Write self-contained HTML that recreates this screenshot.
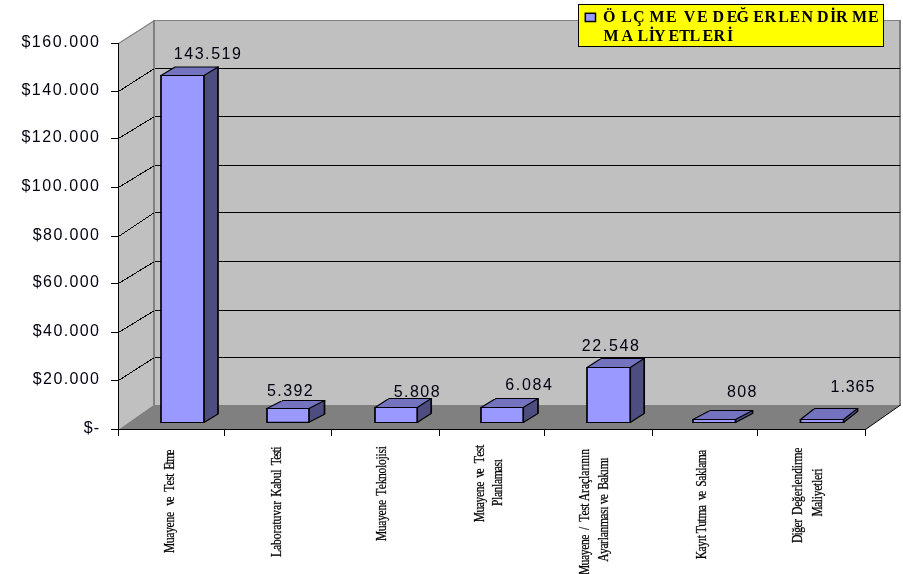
<!DOCTYPE html>
<html lang="tr"><head><meta charset="utf-8"><title>Ölçme ve Değerlendirme Maliyetleri</title>
<style>
html,body{margin:0;padding:0;background:#fff;}
body{width:903px;height:574px;overflow:hidden;position:relative;}
svg{position:absolute;left:0;top:0;display:block;}
.ar{font-family:"Liberation Sans",sans-serif;font-size:16px;fill:#000010;}
.tr{font-family:"Liberation Serif",serif;font-size:14.5px;fill:#000;stroke:#000;stroke-width:0.25px;}
.tb{font-family:"Liberation Serif",serif;font-size:16px;font-weight:bold;fill:#000;}
</style></head><body>
<svg width="903" height="574" viewBox="0 0 903 574">
<rect x="0" y="0" width="903" height="574" fill="#ffffff"/>
<polygon points="154.5,20.5 900.5,20.5 900.5,405.0 154.5,405.0" fill="#c0c0c0"/>
<polygon points="118.5,43.5 153.5,20.5 153.5,405.0 118.5,429.5" fill="#c0c0c0"/>
<polygon points="118.5,429.5 153.5,405.0 900.5,405.0 865.5,429.5" fill="#808080"/>
<g stroke="#808080" stroke-width="1" fill="none">
<path d="M118.5,43.5 L154.5,20.5 L900.5,20.5" stroke-width="1.2"/>
<rect x="899" y="20" width="2" height="386" fill="#808080" stroke="none"/>
<rect x="153" y="20" width="2" height="385" fill="#808080" stroke="none"/>
</g>
<g stroke="#000" stroke-width="1" fill="none" shape-rendering="crispEdges">
<path d="M154.5,68.5 L899.5,68.5"/>
<path d="M118.5,91.5 L154.5,68.5"/>
<path d="M154.5,116.5 L899.5,116.5"/>
<path d="M118.5,138.5 L154.5,116.5"/>
<path d="M154.5,165.5 L899.5,165.5"/>
<path d="M118.5,187.5 L154.5,165.5"/>
<path d="M154.5,212.5 L899.5,212.5"/>
<path d="M118.5,236.5 L154.5,212.5"/>
<path d="M154.5,261.5 L899.5,261.5"/>
<path d="M118.5,283.5 L154.5,261.5"/>
<path d="M154.5,310.5 L899.5,310.5"/>
<path d="M118.5,332.5 L154.5,310.5"/>
<path d="M154.5,357.5 L899.5,357.5"/>
<path d="M118.5,380.5 L154.5,357.5"/>
</g>
<path d="M865.5,429.5 L900.5,405.0" stroke="#000" stroke-width="1" fill="none"/>
<g stroke="#000" stroke-width="1" fill="none" shape-rendering="crispEdges">
<path d="M118.5,43.5 L118.5,435.5"/>
<path d="M111.0,429.5 L865.5,429.5"/>
<path d="M111.0,43.5 L118.5,43.5"/>
<path d="M111.0,91.5 L118.5,91.5"/>
<path d="M111.0,138.5 L118.5,138.5"/>
<path d="M111.0,187.5 L118.5,187.5"/>
<path d="M111.0,236.5 L118.5,236.5"/>
<path d="M111.0,283.5 L118.5,283.5"/>
<path d="M111.0,332.5 L118.5,332.5"/>
<path d="M111.0,380.5 L118.5,380.5"/>
<path d="M224.5,429.5 L224.5,435.5"/>
<path d="M331.5,429.5 L331.5,435.5"/>
<path d="M439.5,429.5 L439.5,435.5"/>
<path d="M544.5,429.5 L544.5,435.5"/>
<path d="M652.5,429.5 L652.5,435.5"/>
<path d="M757.5,429.5 L757.5,435.5"/>
<path d="M865.5,429.5 L865.5,435.5"/>
</g>
<g stroke="none">
<polygon points="161,75.5 175,67.0 218,67.0 204,75.5" fill="#7373bf"/>
<polygon points="204,75.5 218,67.0 218,414.0 204,422.5" fill="#4d4d80"/>
<polygon points="161,75.5 204,75.5 204,422.5 161,422.5" fill="#9999ff"/>
</g>
<path d="M160.4,75.5 L204.6,75.5 M160.4,422.5 L204.6,422.5 M174.4,67.0 L218.6,67.0 M161,75.5 L175,67.0 M204,75.5 L218,67.0 M204,422.5 L218,414.0" stroke="#000" stroke-width="1.2" fill="none" stroke-linecap="butt"/>
<path d="M161,75.0 L161,423.0 M204,75.0 L204,423.0 M218,66.5 L218,414.3" stroke="#000" stroke-width="1.7" fill="none"/>
<g stroke="none">
<polygon points="267,408.5 282.5,400.5 324.5,400.5 309,408.5" fill="#7373bf"/>
<polygon points="309,408.5 324.5,400.5 324.5,414.3 309,422.3" fill="#4d4d80"/>
<polygon points="267,408.5 309,408.5 309,422.3 267,422.3" fill="#9999ff"/>
</g>
<path d="M266.4,408.5 L309.6,408.5 M266.4,422.3 L309.6,422.3 M281.9,400.5 L325.1,400.5 M267,408.5 L282.5,400.5 M309,408.5 L324.5,400.5 M309,422.3 L324.5,414.3" stroke="#000" stroke-width="1.2" fill="none" stroke-linecap="butt"/>
<path d="M267,408.0 L267,422.8 M309,408.0 L309,422.8 M324.5,400.0 L324.5,414.6" stroke="#000" stroke-width="1.7" fill="none"/>
<g stroke="none">
<polygon points="375,407.5 389,398.5 431.2,398.5 417.2,407.5" fill="#7373bf"/>
<polygon points="417.2,407.5 431.2,398.5 431.2,413.5 417.2,422.5" fill="#4d4d80"/>
<polygon points="375,407.5 417.2,407.5 417.2,422.5 375,422.5" fill="#9999ff"/>
</g>
<path d="M374.4,407.5 L417.8,407.5 M374.4,422.5 L417.8,422.5 M388.4,398.5 L431.8,398.5 M375,407.5 L389,398.5 M417.2,407.5 L431.2,398.5 M417.2,422.5 L431.2,413.5" stroke="#000" stroke-width="1.2" fill="none" stroke-linecap="butt"/>
<path d="M375,407.0 L375,423.0 M417.2,407.0 L417.2,423.0 M431.2,398.0 L431.2,413.8" stroke="#000" stroke-width="1.7" fill="none"/>
<g stroke="none">
<polygon points="481,407.5 495.8,398.5 538.0,398.5 523.2,407.5" fill="#7373bf"/>
<polygon points="523.2,407.5 538.0,398.5 538.0,413.5 523.2,422.5" fill="#4d4d80"/>
<polygon points="481,407.5 523.2,407.5 523.2,422.5 481,422.5" fill="#9999ff"/>
</g>
<path d="M480.4,407.5 L523.8000000000001,407.5 M480.4,422.5 L523.8000000000001,422.5 M495.2,398.5 L538.6,398.5 M481,407.5 L495.8,398.5 M523.2,407.5 L538.0,398.5 M523.2,422.5 L538.0,413.5" stroke="#000" stroke-width="1.2" fill="none" stroke-linecap="butt"/>
<path d="M481,407.0 L481,423.0 M523.2,407.0 L523.2,423.0 M538.0,398.0 L538.0,413.8" stroke="#000" stroke-width="1.7" fill="none"/>
<g stroke="none">
<polygon points="587,367.5 601,358.5 644.2,358.5 630.2,367.5" fill="#7373bf"/>
<polygon points="630.2,367.5 644.2,358.5 644.2,413.5 630.2,422.5" fill="#4d4d80"/>
<polygon points="587,367.5 630.2,367.5 630.2,422.5 587,422.5" fill="#9999ff"/>
</g>
<path d="M586.4,367.5 L630.8000000000001,367.5 M586.4,422.5 L630.8000000000001,422.5 M600.4,358.5 L644.8000000000001,358.5 M587,367.5 L601,358.5 M630.2,367.5 L644.2,358.5 M630.2,422.5 L644.2,413.5" stroke="#000" stroke-width="1.2" fill="none" stroke-linecap="butt"/>
<path d="M587,367.0 L587,423.0 M630.2,367.0 L630.2,423.0 M644.2,358.0 L644.2,413.8" stroke="#000" stroke-width="1.7" fill="none"/>
<g stroke="none">
<polygon points="693,419.5 710,410.5 752.5,410.5 735.5,419.5" fill="#7373bf"/>
<polygon points="735.5,419.5 752.5,410.5 752.5,413.5 735.5,422.5" fill="#4d4d80"/>
<polygon points="693,419.5 735.5,419.5 735.5,422.5 693,422.5" fill="#9999ff"/>
</g>
<path d="M692.4,419.5 L736.1,419.5 M692.4,422.5 L736.1,422.5 M709.4,410.5 L753.1,410.5 M693,419.5 L710,410.5 M735.5,419.5 L752.5,410.5 M735.5,422.5 L752.5,413.5" stroke="#000" stroke-width="1.2" fill="none" stroke-linecap="butt"/>
<path d="M693,419.0 L693,423.0 M735.5,419.0 L735.5,423.0 M752.5,410.0 L752.5,413.8" stroke="#000" stroke-width="1.7" fill="none"/>
<g stroke="none">
<polygon points="800.5,419.5 814.5,408.5 857.5,408.5 843.5,419.5" fill="#7373bf"/>
<polygon points="843.5,419.5 857.5,408.5 857.5,411.5 843.5,422.5" fill="#4d4d80"/>
<polygon points="800.5,419.5 843.5,419.5 843.5,422.5 800.5,422.5" fill="#9999ff"/>
</g>
<path d="M799.9,419.5 L844.1,419.5 M799.9,422.5 L844.1,422.5 M813.9,408.5 L858.1,408.5 M800.5,419.5 L814.5,408.5 M843.5,419.5 L857.5,408.5 M843.5,422.5 L857.5,411.5" stroke="#000" stroke-width="1.2" fill="none" stroke-linecap="butt"/>
<path d="M800.5,419.0 L800.5,423.0 M843.5,419.0 L843.5,423.0 M857.5,408.0 L857.5,411.8" stroke="#000" stroke-width="1.7" fill="none"/>
<text class="ar" x="21.4" y="47.2" textLength="77.6" lengthAdjust="spacing">$160.000</text>
<text class="ar" x="21.4" y="95.2" textLength="77.6" lengthAdjust="spacing">$140.000</text>
<text class="ar" x="21.4" y="142.2" textLength="77.6" lengthAdjust="spacing">$120.000</text>
<text class="ar" x="21.4" y="191.2" textLength="77.6" lengthAdjust="spacing">$100.000</text>
<text class="ar" x="32.8" y="240.2" textLength="66.2" lengthAdjust="spacing">$80.000</text>
<text class="ar" x="32.8" y="287.2" textLength="66.2" lengthAdjust="spacing">$60.000</text>
<text class="ar" x="32.8" y="336.2" textLength="66.2" lengthAdjust="spacing">$40.000</text>
<text class="ar" x="32.8" y="384.2" textLength="66.2" lengthAdjust="spacing">$20.000</text>
<text class="ar" x="83.8" y="433.2" textLength="15.2" lengthAdjust="spacing">$-</text>
<text class="ar" x="173.7" y="58.8" textLength="67.3" lengthAdjust="spacing">143.519</text>
<text class="ar" x="267.0" y="395.9" textLength="45.7" lengthAdjust="spacing">5.392</text>
<text class="ar" x="393.7" y="397.0" textLength="45.9" lengthAdjust="spacing">5.808</text>
<text class="ar" x="505.2" y="389.8" textLength="46.8" lengthAdjust="spacing">6.084</text>
<text class="ar" x="581.8" y="351.0" textLength="57.0" lengthAdjust="spacing">22.548</text>
<text class="ar" x="727.0" y="397.2" textLength="29.4" lengthAdjust="spacing">808</text>
<text class="ar" x="830.6" y="392.1" textLength="43.7" lengthAdjust="spacing">1.365</text>
<text class="tr" transform="translate(174.3,552.9) rotate(-90) scale(0.8,1)" x="0.0 12.2 19.0 25.1 31.9 38.0 44.8 53.2 58.9 64.1 71.6 76.4 84.4 90.2 95.3 99.7 103.8 110.7 113.8 122.7" y="0">Muayene ve Test Etme</text>
<text class="tr" transform="translate(280.6,557.0) rotate(-90) scale(0.8,1)" x="0.0 8.7 15.1 22.3 29.4 34.2 40.5 44.5 51.7 58.8 65.2 70.9 75.4 85.3 91.4 98.3 105.2 110.2 114.8 121.6 126.6 131.0 134.1" y="0">Laboratuvar Kabul Testi</text>
<text class="tr" transform="translate(386.4,540.9) rotate(-90) scale(0.8,1)" x="0.0 12.2 19.0 25.1 31.9 38.0 44.8 52.0 56.4 64.7 70.7 77.5 84.3 91.1 94.9 101.7 105.5 109.3 114.6" y="0">Muayene Teknolojisi</text>
<text class="tr" transform="translate(483.5,522.3) rotate(-90) scale(0.8,1)" x="0.0 12.1 18.8 24.9 31.6 37.7 44.4 51.4 55.6 60.9 68.8 73.9 81.9 87.7 92.8" y="0">Muayene ve Test</text>
<text class="tr" transform="translate(501.9,506.0) rotate(-90) scale(0.8,1)" x="0.0 7.4 11.1 17.0 23.7 27.4 33.3 43.6 49.5 54.7" y="0">Planlaması</text>
<text class="tr" transform="translate(589.0,575.0) rotate(-90) scale(0.8,1)" x="0.0 12.0 18.7 24.7 31.5 37.4 44.2 51.7 56.4 62.6 66.6 74.5 80.3 85.3 89.0 92.3 102.6 107.4 113.7 120.1 124.1 130.5 135.2 139.2 146.4 150.4" y="0">Muayene / Test Araçlarının</text>
<text class="tr" transform="translate(608.3,561.8) rotate(-90) scale(0.8,1)" x="0.0 9.7 16.5 22.4 26.9 30.7 36.7 43.4 53.9 59.9 65.1 68.7 72.0 78.1 85.5 90.1 99.2 105.2 112.0 115.8 126.3" y="0">Ayarlanması ve Bakımı</text>
<text class="tr" transform="translate(706.4,559.3) rotate(-90) scale(0.8,1)" x="0.0 9.8 15.8 22.6 26.3 29.7 32.6 40.7 47.3 50.9 61.2 68.9 73.9 79.1 86.3 90.7 98.1 104.0 110.6 114.3 120.1 130.4" y="0">Kayıt Tutma ve Saklama</text>
<text class="tr" transform="translate(801.7,543.1) rotate(-90) scale(0.8,1)" x="0.0 9.4 13.0 19.5 25.3 30.8 35.1 45.3 51.5 58.5 64.7 69.4 73.3 79.5 86.6 93.6 97.5 102.1 113.1" y="0">Diğer Değerlendirme</text>
<text class="tr" transform="translate(821.6,516.6) rotate(-90) scale(0.8,1)" x="0.0 12.0 18.0 21.7 25.5 32.2 38.2 42.0 45.7 51.7 56.2" y="0">Maliyetleri</text>
<rect x="578.5" y="4.5" width="305" height="42" fill="#ffff00" stroke="#000" stroke-width="1" shape-rendering="crispEdges"/>
<rect x="585.3" y="13.3" width="10.2" height="8.2" fill="#9999ff" stroke="#000" stroke-width="1.5"/>
<text class="tb" x="603.1 621.3 633.0 649.5 666.1 678.3 683.8 696.9 708.0 712.4 726.8 736.6 753.3 764.4 778.3 789.6 801.6 816.9 830.0 836.1 852.1 868.0" y="21.6">ÖLÇME VE DEĞERLENDİRME</text>
<text class="tb" x="603.6 621.4 637.4 648.8 654.0 668.4 679.2 689.5 702.4 713.5 727.1" y="40.6">MALİYETLERİ</text>
</svg>
</body></html>
